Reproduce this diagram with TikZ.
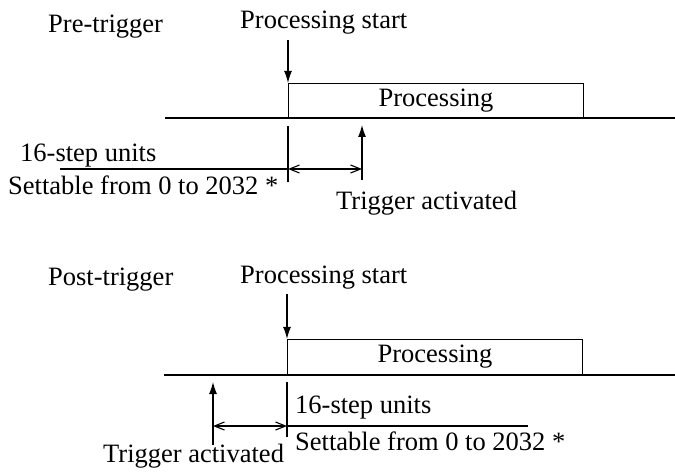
\documentclass[tikz,border=0pt]{standalone}
\usepackage{fontspec}
\setmainfont{Liberation Serif}
\usetikzlibrary{arrows.meta,positioning}

\begin{document}
\begin{tikzpicture}[
  x=1pt, y=-1pt,
  txt/.style={font=\fontsize{26.5}{31}\selectfont, inner sep=0pt, anchor=base west},
  ln/.style={line width=1.1pt},
  axis/.style={line width=2.8pt},
  proc/.style={draw, ln, anchor=south west, minimum width=295pt,
               font=\fontsize{26.5}{31}\selectfont, inner sep=0pt},
  mark arrow/.style={ln, -{Latex[length=12pt,width=8pt]}},
  span/.style={ln, {Straight Barb[length=10pt,width=8pt]}-{Straight Barb[length=10pt,width=8pt]}}
]
  \useasboundingbox (0,0) rectangle (675,476);

  % pre-trigger
  \node[txt] (pre) at (48,33) {Pre-trigger};
  \node[txt] (start1) at (240,29) {Processing start};
  \node[proc, minimum height=34pt] (box1) at (288,118) {Processing};
  \coordinate (axis1L) at (165,118);
  \coordinate (axis1R) at (675,118);
  \draw[axis] (axis1L) -- (axis1R);
  \draw[mark arrow] ([yshift=-5pt]start1.south -| box1.north west) -- (box1.north west);

  \coordinate (tick1a) at (288,126);
  \coordinate (tick1b) at (288,182);
  \draw[ln] (tick1a) -- (tick1b);
  \coordinate (trig1a) at (362,180);
  \coordinate (trig1b) at (362,125);
  \draw[mark arrow] (trig1a) -- (trig1b);
  \coordinate (span1L) at (288,169);
  \coordinate (span1R) at (362,169);
  \coordinate (rule1) at (60,169);
  \draw[span] (span1L) -- (span1R);
  \draw[ln] (rule1) -- (span1L);

  \node[txt] (units1) at (20,161) {16-step units};
  \node[txt] (set1) at (8,195) {Settable from 0 to 2032 *};
  \node[txt] (act1) at (336,210) {Trigger activated};

  % post-trigger
  \node[txt] (post) at (48,285) {Post-trigger};
  \node[txt] (start2) at (240,283) {Processing start};
  \node[proc, minimum height=35pt] (box2) at (287,375) {Processing};
  \coordinate (axis2L) at (164,375);
  \coordinate (axis2R) at (675,375);
  \draw[axis] (axis2L) -- (axis2R);
  \draw[mark arrow] ([yshift=-5pt]start2.south -| box2.north west) -- (box2.north west);

  \coordinate (tick2a) at (287,382);
  \coordinate (tick2b) at (287,437);
  \draw[ln] (tick2a) -- (tick2b);
  \coordinate (trig2a) at (213,445);
  \coordinate (trig2b) at (213,382);
  \draw[mark arrow] (trig2a) -- (trig2b);
  \coordinate (span2L) at (213,426);
  \coordinate (span2R) at (287,426);
  \coordinate (rule2) at (528,426);
  \draw[span] (span2L) -- (span2R);
  \draw[ln] (span2R) -- (rule2);

  \node[txt] (units2) at (295,413) {16-step units};
  \node[txt] (set2) at (295,450) {Settable from 0 to 2032 *};
  \node[txt] (act2) at (103,462) {Trigger activated};
\end{tikzpicture}
\end{document}
